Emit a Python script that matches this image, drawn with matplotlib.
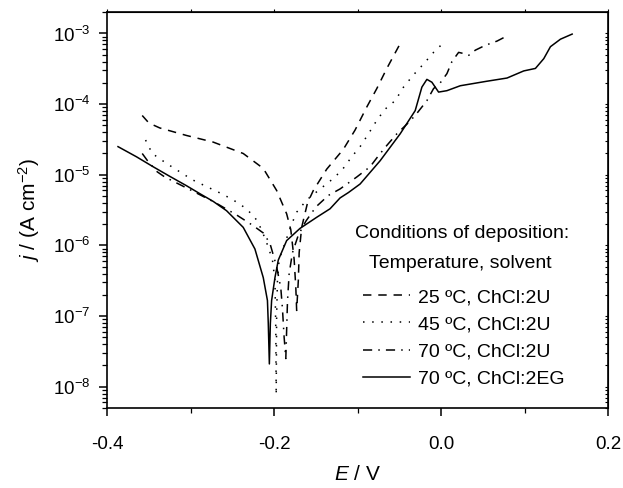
import numpy as np
import matplotlib
matplotlib.use("Agg")
import matplotlib.pyplot as plt
from matplotlib.ticker import LogLocator, FuncFormatter, MultipleLocator, NullFormatter

plt.rcParams['font.family'] = ['Liberation Sans', 'DejaVu Sans']
plt.rcParams['mathtext.fontset'] = 'custom'
plt.rcParams['mathtext.rm'] = 'Liberation Sans'
plt.rcParams['mathtext.it'] = 'Liberation Sans:italic'

# 25 ºC, ChCl:2U (dashed)
E_25 = [-0.358, -0.350, -0.337, -0.305, -0.273, -0.237, -0.213, -0.197, -0.185, -0.180,
        -0.176, -0.174, -0.173, -0.171, -0.170, -0.167, -0.160, -0.153, -0.137, -0.117,
        -0.103, -0.089, -0.077, -0.065, -0.051, -0.048]
j_25 = [6.9e-5, 5.4e-5, 4.6e-5, 3.6e-5, 2.9e-5, 2.0e-5, 1.23e-5, 6.0e-6, 2.8e-6, 1.66e-6,
        6.3e-7, 2.5e-7, 1.2e-7, 3.2e-7, 7.9e-7, 1.8e-6, 4.0e-6, 6.0e-6, 1.2e-5, 2.3e-5,
        4.3e-5, 9.1e-5, 1.66e-4, 3.2e-4, 6.5e-4, 7.2e-4]

# 45 ºC, ChCl:2U (dotted)
E_45 = [-0.354, -0.346, -0.329, -0.313, -0.298, -0.282, -0.263, -0.249, -0.233, -0.221,
        -0.215, -0.207, -0.202, -0.199, -0.198, -0.1975, -0.197, -0.196, -0.194, -0.179,
        -0.173, -0.161, -0.147, -0.131, -0.119, -0.107, -0.097, -0.087, -0.077, -0.067,
        -0.055, -0.045, -0.033, -0.021, -0.009, 0.004]
j_45 = [3.1e-5, 2.0e-5, 1.45e-5, 1.1e-5, 8.5e-6, 6.9e-6, 5.4e-6, 4.4e-6, 3.3e-6, 2.3e-6,
        1.66e-6, 9.5e-7, 6.2e-7, 3.2e-7, 6.3e-8, 7.6e-9, 1.0e-7, 3.2e-7, 6.3e-7, 2.0e-6,
        2.95e-6, 4.4e-6, 6.0e-6, 8.5e-6, 1.15e-5, 1.8e-5, 2.5e-5, 3.8e-5, 5.9e-5, 8.5e-5,
        1.12e-4, 1.74e-4, 2.6e-4, 3.7e-4, 5.4e-4, 7.6e-4]

# 70 ºC, ChCl:2U (dash-dot)
E_70U = [-0.358, -0.352, -0.340, -0.331, -0.299, -0.270, -0.245, -0.225, -0.213, -0.205,
         -0.197, -0.192, -0.190, -0.188, -0.186, -0.184, -0.182, -0.178, -0.171, -0.162,
         -0.150, -0.135, -0.121, -0.101, -0.085, -0.075, -0.065, -0.053, -0.041, -0.031,
         -0.023, -0.017, -0.009, -0.001, 0.007, 0.013, 0.021, 0.027, 0.033, 0.041,
         0.053, 0.067, 0.081]
j_70U = [2.0e-5, 1.6e-5, 1.1e-5, 9.3e-6, 6.0e-6, 4.0e-6, 2.7e-6, 1.9e-6, 1.5e-6, 1.07e-6,
         5.0e-7, 2.5e-7, 1.26e-7, 5.0e-8, 2.5e-8, 1.6e-7, 4.0e-7, 7.9e-7, 1.4e-6, 2.2e-6,
         3.5e-6, 5.1e-6, 6.3e-6, 9.3e-6, 1.3e-5, 1.86e-5, 2.6e-5, 3.8e-5, 5.2e-5, 6.9e-5,
         9.1e-5, 1.12e-4, 1.66e-4, 2.0e-4, 2.7e-4, 4.0e-4, 5.4e-4, 5.2e-4, 4.9e-4, 5.8e-4,
         6.8e-4, 7.8e-4, 9.5e-4]

# 70 ºC, ChCl:2EG (solid)
E_70EG = [-0.387, -0.365, -0.345, -0.325, -0.305, -0.289, -0.273, -0.257, -0.237, -0.223,
          -0.213, -0.208, -0.207, -0.2057, -0.2045, -0.203, -0.199, -0.195, -0.185, -0.169,
          -0.149, -0.133, -0.121, -0.111, -0.097, -0.073, -0.049, -0.031, -0.023, -0.017,
          -0.011, -0.003, 0.007, 0.023, 0.054, 0.079, 0.099, 0.113, 0.123, 0.131,
          0.143, 0.157]
j_70EG = [2.5e-5, 1.8e-5, 1.3e-5, 9.5e-6, 7.0e-6, 5.4e-6, 4.2e-6, 3.1e-6, 1.8e-6, 8.9e-7,
          3.5e-7, 1.66e-7, 7.9e-8, 2.1e-8, 7.9e-8, 1.66e-7, 3.5e-7, 6.2e-7, 1.17e-6, 1.74e-6,
          2.5e-6, 3.3e-6, 4.7e-6, 5.6e-6, 7.4e-6, 1.58e-5, 3.8e-5, 8.1e-5, 1.74e-4, 2.24e-4,
          2.04e-4, 1.48e-4, 1.55e-4, 1.82e-4, 2.1e-4, 2.34e-4, 2.95e-4, 3.2e-4, 4.4e-4, 6.5e-4,
          8.3e-4, 9.8e-4]

labels = ["25 ºC, ChCl:2U", "45 ºC, ChCl:2U", "70 ºC, ChCl:2U", "70 ºC, ChCl:2EG"]

fig = plt.figure(figsize=(6.23, 4.88), dpi=100)
ax = fig.add_axes([0.172, 0.164, 0.804, 0.811])

ax.plot(E_25, j_25, color='black', lw=1.1, linestyle=(0, (5.5, 4.5)), label=labels[0])
ax.plot(E_45, j_45, color='black', lw=1.1, linestyle=(0, (1, 5)), label=labels[1])
ax.plot(E_70U, j_70U, color='black', lw=1.1, linestyle=(0, (6, 4, 1, 4)), label=labels[2])
ax.plot(E_70EG, j_70EG, color='black', lw=1.1, linestyle='-', label=labels[3])

ax.set_yscale('log')
ax.set_xlim(-0.4, 0.2)
ax.set_ylim(5e-9, 2e-3)

ax.xaxis.set_major_locator(MultipleLocator(0.2))
ax.xaxis.set_minor_locator(MultipleLocator(0.1))
ax.xaxis.set_major_formatter(FuncFormatter(lambda v, p: "%.1f" % v))
ax.yaxis.set_major_locator(LogLocator(base=10, numticks=20))
ax.yaxis.set_minor_locator(LogLocator(base=10, subs=np.arange(2, 10), numticks=50))
ax.yaxis.set_minor_formatter(NullFormatter())
ax.yaxis.set_major_formatter(FuncFormatter(lambda v, p: r"$\mathregular{10^{%d}}$" % round(np.log10(v))))

ax.tick_params(axis='both', which='major', direction='out', length=6, width=1.1, labelsize=13.5, pad=6)
ax.tick_params(axis='x', which='major', pad=14)
ax.tick_params(axis='both', which='minor', direction='out', length=3.5, width=0.9)
for s in ax.spines.values():
    s.set_linewidth(1.2)

# small ticks on top and right edges
top = ax.secondary_xaxis('top')
top.xaxis.set_major_locator(MultipleLocator(0.1))
top.tick_params(direction='out', length=2, width=0.8, labeltop=False)
right = ax.secondary_yaxis('right')
right.yaxis.set_major_locator(LogLocator(base=10, numticks=20))
right.yaxis.set_minor_locator(LogLocator(base=10, subs=np.arange(2, 10), numticks=50))
right.tick_params(which='both', direction='in', length=2, width=0.8, labelright=False)
right.yaxis.set_minor_formatter(NullFormatter())

ax.set_xlabel(r"$\mathit{E}$ / V", fontsize=15, labelpad=9)
ax.set_ylabel(r"$\mathit{j}$ / (A cm$^{-2}$)", fontsize=15, labelpad=8)

ax.text(0.709, 0.442, "Conditions of deposition:", transform=ax.transAxes,
        ha='center', va='center', fontsize=14)
ax.text(0.706, 0.366, "Temperature, solvent", transform=ax.transAxes,
        ha='center', va='center', fontsize=14)
ax.legend(loc='upper left', bbox_to_anchor=(0.511, 0.302), frameon=False, fontsize=14,
          handlelength=2.4, handletextpad=0.4, labelspacing=0.49, borderpad=0, borderaxespad=0)

fig.savefig("out.png", dpi=100)
